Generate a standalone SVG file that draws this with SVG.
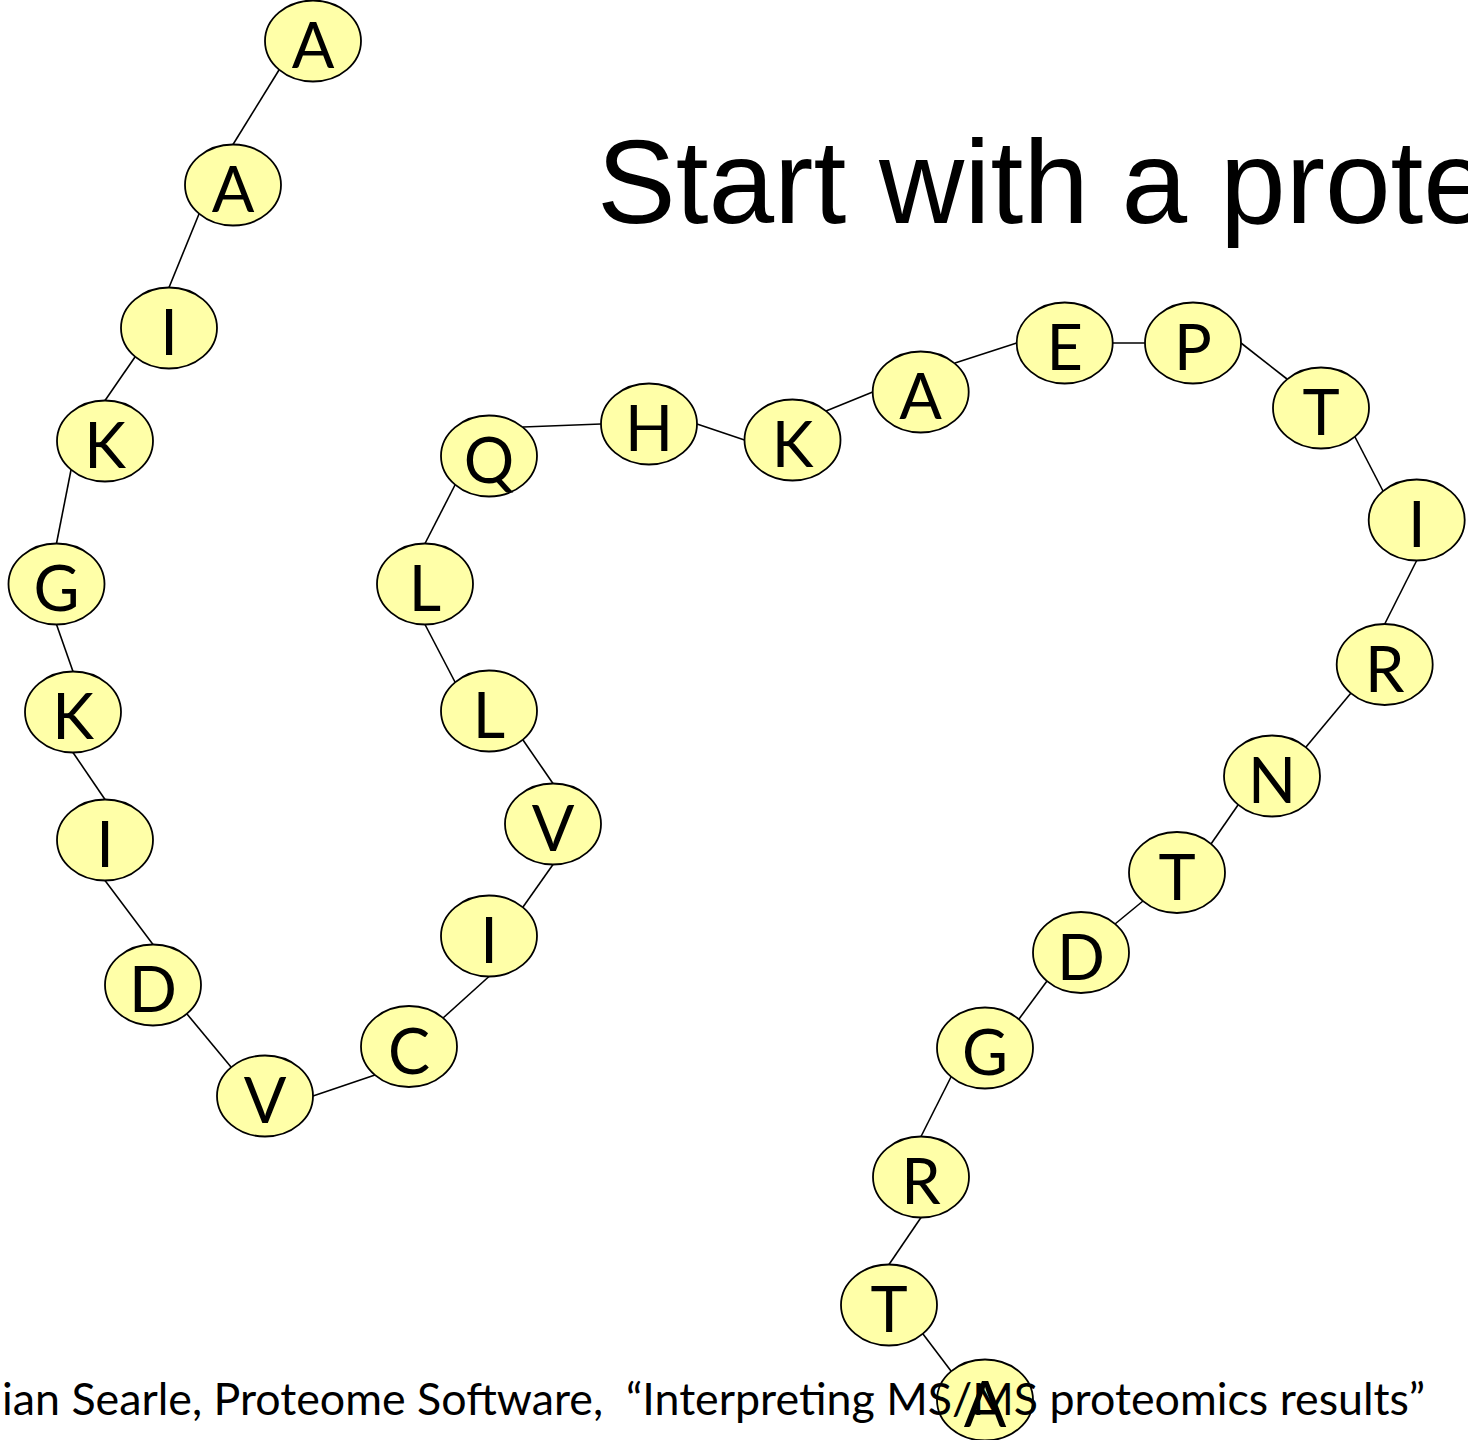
<svg xmlns="http://www.w3.org/2000/svg" width="1468" height="1440" viewBox="0 0 1468 1440">
<style>
.n ellipse{fill:#FFFFA8;stroke:#000;stroke-width:1.8}
.n text{font-family:Lato,"Open Sans","Liberation Sans",sans-serif;font-size:63px;fill:#000;text-anchor:middle}
#edges line{stroke:#000;stroke-width:1.6}
.title{font-family:"Liberation Sans",Arial,sans-serif;font-size:118px;fill:#000}
.foot{font-family:Lato,"Open Sans","Liberation Sans",sans-serif;font-size:45px;fill:#000;white-space:pre}
</style>
<rect width="1468" height="1440" fill="#fff"/>
<text class="title" x="597" y="223">Start with a prote</text>
<g id="edges">
<line x1="279" y1="70" x2="233" y2="144.5"/>
<line x1="199" y1="214" x2="169" y2="287.5"/>
<line x1="135" y1="357" x2="105" y2="400.5"/>
<line x1="71" y1="470" x2="56.5" y2="543.5"/>
<line x1="56.5" y1="624.5" x2="73" y2="671.5"/>
<line x1="73" y1="752.5" x2="105" y2="799.5"/>
<line x1="105" y1="880.5" x2="153" y2="944.5"/>
<line x1="187" y1="1014" x2="231" y2="1067"/>
<line x1="313" y1="1096" x2="375" y2="1075"/>
<line x1="443" y1="1018" x2="489" y2="976.5"/>
<line x1="523" y1="907" x2="553" y2="864.5"/>
<line x1="553" y1="783.5" x2="523" y2="740"/>
<line x1="455" y1="682" x2="425" y2="624.5"/>
<line x1="425" y1="543.5" x2="455" y2="485"/>
<line x1="523" y1="427" x2="601" y2="424"/>
<line x1="697" y1="424" x2="744.5" y2="440"/>
<line x1="826" y1="411" x2="872.7" y2="392"/>
<line x1="955" y1="363" x2="1016.7" y2="343"/>
<line x1="1112.7" y1="343" x2="1145" y2="343"/>
<line x1="1241" y1="343" x2="1287" y2="379"/>
<line x1="1355" y1="437" x2="1383" y2="491"/>
<line x1="1416.7" y1="560.5" x2="1384.7" y2="624"/>
<line x1="1351" y1="693" x2="1306" y2="747"/>
<line x1="1238" y1="805" x2="1211" y2="844"/>
<line x1="1143" y1="901" x2="1115" y2="924"/>
<line x1="1047" y1="981" x2="1019" y2="1019"/>
<line x1="951" y1="1077" x2="921" y2="1136.5"/>
<line x1="921" y1="1217.5" x2="889" y2="1264.5"/>
<line x1="923" y1="1334" x2="951" y2="1371"/>
</g>
<g id="n1" class="n"><ellipse cx="313" cy="41" rx="48" ry="40.5"/><text x="313" y="68">A</text></g>
<g id="n2" class="n"><ellipse cx="233" cy="185" rx="48" ry="40.5"/><text x="233" y="212">A</text></g>
<g id="n3" class="n"><ellipse cx="169" cy="328" rx="48" ry="40.5"/><text x="169" y="355">I</text></g>
<g id="n4" class="n"><ellipse cx="105" cy="441" rx="48" ry="40.5"/><text x="105" y="468">K</text></g>
<g id="n5" class="n"><ellipse cx="56.5" cy="584" rx="48" ry="40.5"/><text x="56.5" y="611">G</text></g>
<g id="n6" class="n"><ellipse cx="73" cy="712" rx="48" ry="40.5"/><text x="73" y="739">K</text></g>
<g id="n7" class="n"><ellipse cx="105" cy="840" rx="48" ry="40.5"/><text x="105" y="867">I</text></g>
<g id="n8" class="n"><ellipse cx="153" cy="985" rx="48" ry="40.5"/><text x="153" y="1012">D</text></g>
<g id="n9" class="n"><ellipse cx="265" cy="1096" rx="48" ry="40.5"/><text x="265" y="1123">V</text></g>
<g id="n10" class="n"><ellipse cx="409" cy="1046.5" rx="48" ry="40.5"/><text x="409" y="1073.5">C</text></g>
<g id="n11" class="n"><ellipse cx="489" cy="936" rx="48" ry="40.5"/><text x="489" y="963">I</text></g>
<g id="n12" class="n"><ellipse cx="553" cy="824" rx="48" ry="40.5"/><text x="553" y="851">V</text></g>
<g id="n13" class="n"><ellipse cx="489" cy="711" rx="48" ry="40.5"/><text x="489" y="738">L</text></g>
<g id="n14" class="n"><ellipse cx="425" cy="584" rx="48" ry="40.5"/><text x="425" y="611">L</text></g>
<g id="n15" class="n"><ellipse cx="489" cy="456" rx="48" ry="40.5"/><text x="489" y="483">Q</text></g>
<g id="n16" class="n"><ellipse cx="649" cy="424" rx="48" ry="40.5"/><text x="649" y="451">H</text></g>
<g id="n17" class="n"><ellipse cx="792.5" cy="440" rx="48" ry="40.5"/><text x="792.5" y="467">K</text></g>
<g id="n18" class="n"><ellipse cx="920.7" cy="392" rx="48" ry="40.5"/><text x="920.7" y="419">A</text></g>
<g id="n19" class="n"><ellipse cx="1064.7" cy="343" rx="48" ry="40.5"/><text x="1064.7" y="370">E</text></g>
<g id="n20" class="n"><ellipse cx="1193" cy="343" rx="48" ry="40.5"/><text x="1193" y="370">P</text></g>
<g id="n21" class="n"><ellipse cx="1321" cy="408" rx="48" ry="40.5"/><text x="1321" y="435">T</text></g>
<g id="n22" class="n"><ellipse cx="1416.7" cy="520" rx="48" ry="40.5"/><text x="1416.7" y="547">I</text></g>
<g id="n23" class="n"><ellipse cx="1384.7" cy="664.5" rx="48" ry="40.5"/><text x="1384.7" y="691.5">R</text></g>
<g id="n24" class="n"><ellipse cx="1272" cy="776" rx="48" ry="40.5"/><text x="1272" y="803">N</text></g>
<g id="n25" class="n"><ellipse cx="1177" cy="872.5" rx="48" ry="40.5"/><text x="1177" y="899.5">T</text></g>
<g id="n26" class="n"><ellipse cx="1081" cy="952.5" rx="48" ry="40.5"/><text x="1081" y="979.5">D</text></g>
<g id="n27" class="n"><ellipse cx="985" cy="1048" rx="48" ry="40.5"/><text x="985" y="1075">G</text></g>
<g id="n28" class="n"><ellipse cx="921" cy="1177" rx="48" ry="40.5"/><text x="921" y="1204">R</text></g>
<g id="n29" class="n"><ellipse cx="889" cy="1305" rx="48" ry="40.5"/><text x="889" y="1332">T</text></g>
<g id="n30" class="n"><ellipse cx="985" cy="1400" rx="48" ry="40.5"/><text x="985" y="1427">A</text></g>
<text class="foot" x="2" y="1415" textLength="1423" lengthAdjust="spacingAndGlyphs">ian Searle, Proteome Software,  “Interpreting MS/MS proteomics results”</text>
</svg>
